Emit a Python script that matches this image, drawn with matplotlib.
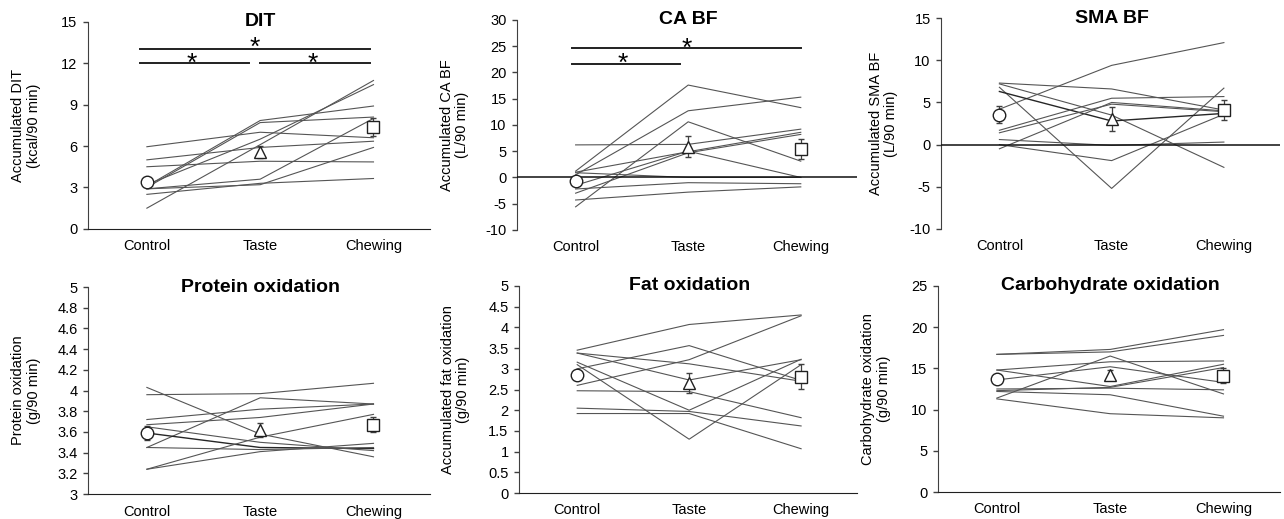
import matplotlib.pyplot as plt

plt.rcParams['font.family'] = ['Liberation Sans', 'DejaVu Sans']

conditions = ['Control', 'Taste', 'Chewing']

# individual subjects: one list per condition (10 subjects)
dit_control = [5.95, 5.0, 4.5, 3.1, 3.0, 1.5, 3.2, 2.9, 2.9, 2.5]
dit_taste = [7.0, 5.9, 4.9, 7.85, 7.7, 6.1, 6.5, 3.6, 3.2, 3.3]
dit_chewing = [6.6, 6.35, 4.85, 8.9, 8.1, 10.75, 10.45, 8.0, 5.9, 3.65]
dit_mean = [3.4, 5.55, 7.37]
dit_sem = [0.25, 0.45, 0.65]

ca_control = [1.2, 0.5, -5.6, 6.2, 1.0, -3.0, 0.9, -2.2, -4.3, -1.5]
ca_taste = [17.6, 12.7, 10.6, 6.3, 4.9, 4.7, 0.0, -1.0, -2.8, 5.0]
ca_chewing = [13.3, 15.3, 3.1, 9.2, 8.6, 8.2, 0.0, -1.2, -1.8, 0.0]
ca_mean = [-0.7, 5.8, 5.4]
ca_sem = [0.5, 2.0, 1.9]

sma_control = [4.2, 7.3, 6.8, 7.2, 6.3, 1.7, 1.4, -0.5, 0.6, 0.0]
sma_taste = [9.4, 6.6, -5.2, 3.5, 2.8, 5.5, 4.8, 5.0, -0.1, -1.9]
sma_chewing = [12.1, 4.1, 6.7, -2.7, 3.7, 5.7, 3.9, 4.0, 0.3, 3.6]
sma_mean = [3.55, 3.05, 4.15]
sma_sem = [1.0, 1.4, 1.2]

prot_control = [3.96, 4.03, 3.72, 3.67, 3.45, 3.59, 3.65, 3.24, 3.24, 3.45]
prot_taste = [3.97, 3.58, 3.82, 3.74, 3.93, 3.45, 3.50, 3.55, 3.41, 3.43]
prot_chewing = [4.07, 3.36, 3.87, 3.87, 3.87, 3.44, 3.42, 3.77, 3.49, 3.45]
prot_mean = [3.59, 3.62, 3.67]
prot_sem = [0.07, 0.07, 0.07]

fat_control = [3.45, 2.6, 3.38, 3.0, 3.16, 3.10, 3.38, 2.47, 2.05, 1.92]
fat_taste = [4.07, 3.22, 3.12, 3.56, 2.0, 1.3, 2.73, 2.45, 1.97, 1.92]
fat_chewing = [4.30, 4.28, 2.70, 2.72, 3.23, 3.10, 3.22, 1.82, 1.62, 1.07]
fat_mean = [2.86, 2.66, 2.81]
fat_sem = [0.12, 0.25, 0.3]

cho_control = [16.7, 16.7, 11.4, 14.8, 13.6, 14.8, 12.3, 12.5, 12.2, 11.3]
cho_taste = [17.3, 17.0, 16.5, 15.8, 15.2, 12.8, 12.7, 12.6, 11.8, 9.5]
cho_chewing = [19.7, 19.0, 11.9, 15.9, 13.3, 15.5, 15.1, 12.4, 9.2, 9.0]
cho_mean = [13.7, 14.2, 14.1]
cho_sem = [0.5, 0.6, 0.9]

titles = ['DIT', 'CA BF', 'SMA BF', 'Protein oxidation', 'Fat oxidation',
          'Carbohydrate oxidation']
ylabels = ['Accumulated DIT\n(kcal/90 min)', 'Accumulated CA BF\n(L/90 min)',
           'Accumulated SMA BF\n(L/90 min)', 'Protein oxidation\n(g/90 min)',
           'Accumulated fat oxidation\n(g/90 min)', 'Carbohydrate oxidation\n(g/90 min)']
yticks = [[0, 3, 6, 9, 12, 15],
          [-10, -5, 0, 5, 10, 15, 20, 25, 30],
          [-10, -5, 0, 5, 10, 15],
          [3, 3.2, 3.4, 3.6, 3.8, 4, 4.2, 4.4, 4.6, 4.8, 5],
          [0, 0.5, 1, 1.5, 2, 2.5, 3, 3.5, 4, 4.5, 5],
          [0, 5, 10, 15, 20, 25]]
ytick_labels = [['0', '3', '6', '9', '12', '15'],
                ['-10', '-5', '0', '5', '10', '15', '20', '25', '30'],
                ['-10', '-5', '0', '5', '10', '15'],
                ['3', '3.2', '3.4', '3.6', '3.8', '4', '4.2', '4.4', '4.6', '4.8', '5'],
                ['0', '0.5', '1', '1.5', '2', '2.5', '3', '3.5', '4', '4.5', '5'],
                ['0', '5', '10', '15', '20', '25']]

panels = [
    (dit_control, dit_taste, dit_chewing, dit_mean, dit_sem),
    (ca_control, ca_taste, ca_chewing, ca_mean, ca_sem),
    (sma_control, sma_taste, sma_chewing, sma_mean, sma_sem),
    (prot_control, prot_taste, prot_chewing, prot_mean, prot_sem),
    (fat_control, fat_taste, fat_chewing, fat_mean, fat_sem),
    (cho_control, cho_taste, cho_chewing, cho_mean, cho_sem),
]
# darker subject line per panel (index), None if none
dark_line = [None, None, 4, 5, None, None]

# significance bars: (x_start, x_end, y) and star baseline (x, y)
dit_bars = [(-0.06, 1.965, 13.05), (-0.06, 0.905, 12.0), (1.0, 1.965, 12.0)]
dit_stars = [(0.95, 12.6), (0.4, 11.45), (1.46, 11.45)]
ca_bars = [(-0.03, 2.0, 24.6), (-0.03, 0.93, 21.6)]
ca_stars = [(0.99, 23.1), (0.42, 20.3)]
sig_bars = [dit_bars, ca_bars, [], [], [], []]
sig_stars = [dit_stars, ca_stars, [], [], [], []]

positions = [
    [0.0685, 0.559, 0.2665, 0.399],
    [0.4027, 0.557, 0.2648, 0.4045],
    [0.7329, 0.559, 0.264, 0.406],
    [0.0685, 0.048, 0.2665, 0.399],
    [0.4042, 0.050, 0.2633, 0.399],
    [0.7305, 0.052, 0.2665, 0.397],
]
label_x = [-0.181, -0.185, -0.171, -0.181, -0.189, -0.181]

fig = plt.figure(figsize=(12.84, 5.19), dpi=100)
markers = ['o', '^', 's']
xs = [0, 1, 2]
spine_col = '#404040'

for i, (c, t, ch, mean, sem) in enumerate(panels):
    ax = fig.add_axes(positions[i])
    for s in range(len(c)):
        col = '#262626' if dark_line[i] == s else '#555555'
        lw = 1.0 if dark_line[i] == s else 0.8
        ax.plot(xs, [c[s], t[s], ch[s]], color=col, lw=lw, zorder=2)
    for k in range(3):
        ax.errorbar(xs[k], mean[k], yerr=sem[k], fmt=markers[k], ms=9,
                    mfc='white', mec='#202020', mew=1.0, ecolor='#404040',
                    elinewidth=0.9, capsize=2.3, capthick=0.9, zorder=4)
    ymin, ymax = yticks[i][0], yticks[i][-1]
    ax.set_ylim(ymin, ymax)
    ax.set_xlim(-0.52, 2.5)
    ax.set_yticks(yticks[i])
    ax.set_yticklabels(ytick_labels[i], fontsize=10.5)
    ax.set_xticks(xs)
    ax.set_xticklabels(conditions, fontsize=10.5)
    ax.tick_params(axis='x', length=0, pad=7.5)
    ax.tick_params(axis='y', length=3.5, width=1, color=spine_col, pad=4)
    for side in ['top', 'right']:
        ax.spines[side].set_visible(False)
    ax.spines['left'].set_color(spine_col)
    ax.spines['bottom'].set_color('#202020')
    if ymin < 0:
        ax.spines['bottom'].set_visible(False)
        ax.axhline(0, color='#101010', lw=1.1, zorder=3)
    ax.set_ylabel(ylabels[i], fontsize=10.5, va='center', linespacing=1.1)
    ax.yaxis.set_label_coords(label_x[i], 0.5)
    ax.text(1, ymax, titles[i], ha='center', va='center', fontsize=14,
            fontweight='bold')
    for x0, x1, y in sig_bars[i]:
        ax.plot([x0, x1], [y, y], color='#202020', lw=1.4, zorder=3)
    for x, y in sig_stars[i]:
        ax.text(x, y, '*', ha='center', va='baseline', fontsize=19)

fig.savefig('out.png', dpi=100)
